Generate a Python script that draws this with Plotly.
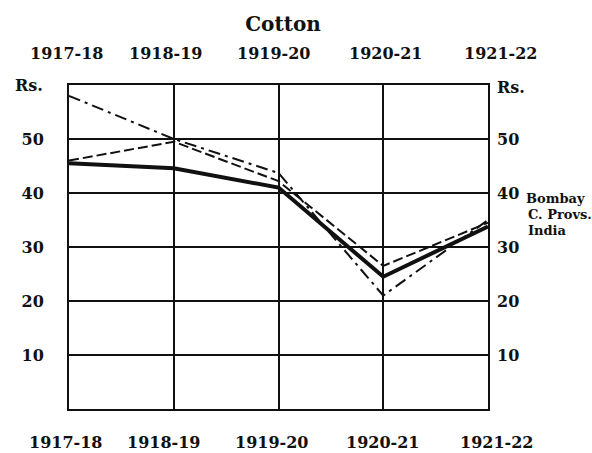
import plotly.graph_objects as go

years = ["1917-18", "1918-19", "1919-20", "1920-21", "1921-22"]
bombay = [58.0, 50.0, 43.7, 21.0, 35.0]
c_provs = [46.0, 49.5, 42.2, 26.5, 34.5]
india = [45.5, 44.6, 41.0, 24.5, 33.8]
y_ticks = [10, 20, 30, 40, 50]
series_names = ["Bombay", "C. Provs.", "India"]

FONT = "DejaVu Serif"
x = list(range(len(years)))

fig = go.Figure()
fig.add_trace(go.Scatter(x=x, y=bombay, mode="lines", name=series_names[0],
                         line=dict(color="#111", width=2, dash="12px,5px,3px,5px")))
fig.add_trace(go.Scatter(x=x, y=c_provs, mode="lines", name=series_names[1],
                         line=dict(color="#111", width=2, dash="10px,4px")))
fig.add_trace(go.Scatter(x=x, y=india, mode="lines", name=series_names[2],
                         line=dict(color="#111", width=4)))
fig.add_trace(go.Scatter(x=[0], y=[0], yaxis="y2", mode="markers",
                         marker=dict(opacity=0), showlegend=False, hoverinfo="skip"))

fig.update_layout(
    width=592, height=453,
    margin=dict(l=69, r=104, t=85, b=44),
    paper_bgcolor="white", plot_bgcolor="white",
    showlegend=False,
    font=dict(family=FONT, color="#111", size=16),
    title=dict(text="<b>Cotton</b>", x=283/592, xanchor="center",
               y=1-24/453, yanchor="middle", font=dict(size=20, family=FONT)),
    xaxis=dict(range=[0, len(years)-1], tickvals=x, showticklabels=False,
               showgrid=True, gridcolor="#111", gridwidth=1.5,
               showline=True, linecolor="#111", linewidth=2, mirror=True,
               zeroline=False, ticks=""),
    yaxis=dict(range=[0, 60], tickvals=y_ticks, ticktext=[f"<b>{v}</b>" for v in y_ticks],
               showgrid=True, gridcolor="#111", gridwidth=1.5,
               showline=True, linecolor="#111", linewidth=2, mirror=True,
               zeroline=False, ticks="", ticklabelstandoff=20,
               tickfont=dict(size=16, family=FONT)),
    yaxis2=dict(range=[0, 60], tickvals=y_ticks, ticktext=[f"<b>{v}</b>" for v in y_ticks],
                overlaying="y", side="right", showgrid=False, zeroline=False,
                ticks="", ticklabelstandoff=8, tickfont=dict(size=16, family=FONT)),
)

top_shifts = [-3, -8, -5, 2, 12]
bottom_shifts = [-4, -10, -7, -1, 8]
for i, lab in enumerate(years):
    fig.add_annotation(x=i, xref="x", y=1, yref="paper", yshift=32, text=f"<b>{lab}</b>",
                       showarrow=False, xanchor="center", yanchor="middle", xshift=top_shifts[i],
                       font=dict(size=16, family=FONT))
    fig.add_annotation(x=i, xref="x", y=0, yref="paper", yshift=-33, text=f"<b>{lab}</b>",
                       showarrow=False, xanchor="center", yanchor="middle",
                       xshift=bottom_shifts[i], font=dict(size=16, family=FONT))

fig.add_annotation(x=0, xref="paper", y=1, yref="paper", xshift=-24, text="<b>Rs.</b>",
                   showarrow=False, xanchor="right", yanchor="middle", font=dict(size=16, family=FONT))
fig.add_annotation(x=1, xref="paper", y=1, yref="paper", xshift=7, yshift=-2, text="<b>Rs.</b>",
                   showarrow=False, xanchor="left", yanchor="middle", font=dict(size=16, family=FONT))

for k, nm in enumerate(series_names):
    fig.add_annotation(x=1, xref="paper", y=40, yref="y", xshift=36 + (2 if k > 0 else 0),
                       yshift=-5 - 16*k, text=f"<b>{nm}</b>", showarrow=False,
                       xanchor="left", yanchor="middle", font=dict(size=13, family=FONT))

fig.write_html("out.html", config={"displayModeBar": False},
               post_script="document.body.style.margin='0px';")
